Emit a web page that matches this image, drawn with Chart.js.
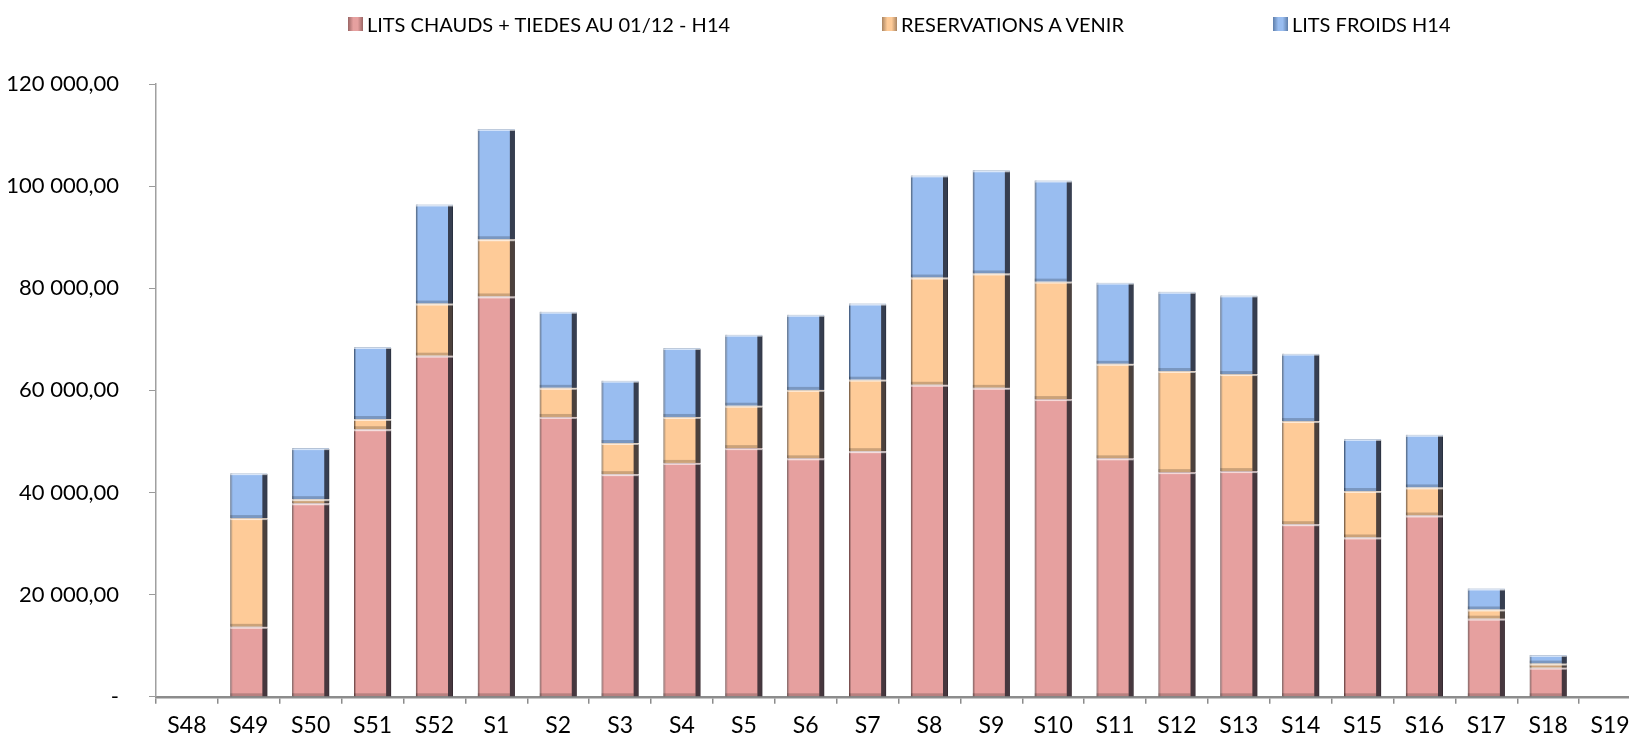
<!DOCTYPE html>
<html>
<head>
<meta charset="utf-8">
<script src="https://cdn.jsdelivr.net/npm/chart.js@4.4.0/dist/chart.umd.min.js"></script>
<style>
  html, body { margin: 0; padding: 0; background: #fff; overflow: hidden; }
  #wrap { position: relative; width: 1629px; height: 740px; overflow: hidden; }
  #legend { position: absolute; top: 0; left: 0; width: 1629px; height: 40px; font-family: Lato, sans-serif; font-size: 20px; color: #000; }
  #legend span.item { position: absolute; top: 11px; line-height: 26px; white-space: nowrap; }
  #legend i { position: absolute; left: -19px; top: 6px; width: 15px; height: 14px; }
  canvas { position: absolute; left: 0; top: 0; }
</style>
</head>
<body>
<div id="wrap">
  <canvas id="c" width="1645" height="740"></canvas>
  <div id="legend"></div>
</div>
<script>
    const weeks = ["S48","S49","S50","S51","S52","S1","S2","S3","S4","S5","S6","S7","S8","S9","S10","S11","S12","S13","S14","S15","S16","S17","S18","S19"];
    const chauds = [0, 13700, 37900, 52400, 66800, 78400, 54800, 43600, 45800, 48700, 46700, 48100, 61100, 60500, 58300, 46700, 44000, 44200, 33800, 31200, 35500, 15300, 5700, 0];
    const resas  = [0, 21300, 800, 2000, 10200, 11200, 5700, 6100, 9000, 8300, 13400, 14000, 21000, 22400, 23000, 18500, 19800, 19000, 20200, 9100, 5500, 1800, 800, 0];
    const froids = [0, 8800, 10000, 14100, 19400, 21600, 14900, 12200, 13500, 13900, 14700, 14900, 20000, 20200, 19800, 15900, 15500, 15400, 13200, 10200, 10300, 4100, 1700, 0];
    const yTicks = [0, 20000, 40000, 60000, 80000, 100000, 120000];

    const series = [
      { label: "LITS CHAUDS + TIEDES AU 01/12 - H14", data: chauds, color: "#E6A09F", edge: "#9A6564", textLeft: 367 },
      { label: "RESERVATIONS A VENIR", data: resas, color: "#FECB98", edge: "#A88462", textLeft: 901 },
      { label: "LITS FROIDS H14", data: froids, color: "#99BDF0", edge: "#5E7EAA", textLeft: 1292 }
    ];

    // legend as html, placed like the original
    const leg = document.getElementById("legend");
    series.forEach(s => {
      const el = document.createElement("span");
      el.className = "item";
      el.style.left = s.textLeft + "px";
      el.innerHTML = `<i style="background:linear-gradient(90deg, ${s.edge}, ${s.color} 35%, ${s.color} 65%, ${s.edge})"></i>${s.label}`;
      leg.appendChild(el);
    });

    const fmt = v => {
      if (v === 0) return "-";
      return Math.round(v).toString().replace(/\B(?=(\d{3})+(?!\d))/g, " ") + ",00";
    };

    // fake bevel: dark strip on the right, light line on top
    const bevel = {
      id: "bevel",
      afterDatasetsDraw(chart) {
        const ctx = chart.ctx;
        chart.data.datasets.forEach((ds, di) => {
          chart.getDatasetMeta(di).data.forEach(bar => {
            const h = bar.base - bar.y;
            if (h < 1) return;
            const l = bar.x - bar.width / 2, r = bar.x + bar.width / 2;
            ctx.save();
            ctx.fillStyle = "rgba(25,25,35,0.78)";
            ctx.fillRect(r - 5, bar.y + 1, 5, h - 1);
            ctx.fillStyle = "rgba(0,0,0,0.2)";
            ctx.fillRect(l, bar.y, 2, h);
            ctx.fillRect(l, bar.base - 3, bar.width - 5, 3);
            ctx.fillStyle = "rgba(255,255,255,0.6)";
            ctx.fillRect(l, bar.y, bar.width, 2);
            ctx.restore();
          });
        });
      }
    };

    new Chart(document.getElementById("c"), {
      type: "bar",
      data: {
        labels: weeks,
        datasets: series.map(s => ({
          label: s.label,
          data: s.data,
          backgroundColor: s.color,
          borderColor: s.edge,
          borderWidth: 1,
          barPercentage: 0.6,
          categoryPercentage: 1
        }))
      },
      options: {
        responsive: false,
        animation: false,
        layout: { padding: { top: 84, right: 4, bottom: 0, left: 0 } },
        plugins: { legend: { display: false }, tooltip: { enabled: false } },
        scales: {
          x: {
            stacked: true,
            afterFit: s => { s.height = 42; },
            grid: { offset: true, drawOnChartArea: false, drawTicks: true, tickLength: 7, color: "#8c8c8c", lineWidth: 1.5 },
            border: { color: "#8c8c8c", width: 2.5 },
            ticks: { color: "#000", font: { family: "Lato", size: 23 }, padding: 8 }
          },
          y: {
            stacked: true,
            min: 0, max: 120000,
            afterBuildTicks: s => { s.ticks = yTicks.map(v => ({ value: v })); },
            afterFit: s => { s.width = 156; },
            grid: { drawOnChartArea: false, drawTicks: true, tickLength: 7, color: "#9a9a9a" },
            border: { color: "#a0a0a0", width: 1.5, dash: [5, 3, 2, 3] },
            ticks: { color: "#000", font: { family: "Lato", size: 22 }, padding: 30, callback: v => fmt(v) }
          }
        }
      },
      plugins: [bevel]
    });
</script>
</body>
</html>
